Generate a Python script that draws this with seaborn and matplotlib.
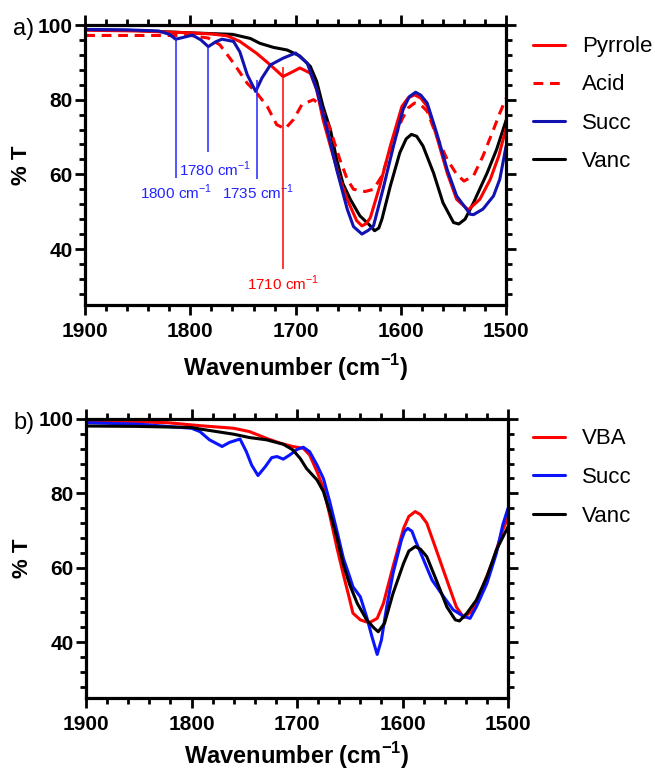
import matplotlib
matplotlib.use("Agg")
import matplotlib.pyplot as plt
from matplotlib.ticker import MultipleLocator
import seaborn as sns

# ---------------- data: panel a ----------------
succ_a_wn = [1900, 1860, 1830, 1820, 1814, 1808, 1798, 1790, 1783, 1776, 1770, 1759, 1753,
             1746, 1738, 1732, 1724, 1712, 1700, 1689, 1680, 1670, 1661, 1651, 1645, 1637,
             1631, 1626, 1617, 1607, 1598, 1592, 1586, 1581, 1575, 1566, 1556, 1547, 1534,
             1531, 1522, 1512, 1506, 1500]
succ_a_t = [98.8, 98.7, 98.4, 97.5, 96.2, 96.6, 97.3, 96.0, 94.2, 95.5, 96.2, 95.6, 92.8,
            86.7, 82.2, 85.8, 89.3, 91.1, 92.5, 89.8, 82.7, 72.0, 61.3, 50.7, 46.0, 44.0,
            45.0, 46.2, 56.0, 67.6, 77.3, 80.8, 82.0, 81.2, 79.1, 71.1, 61.3, 54.2, 49.3,
            49.2, 50.7, 54.2, 58.7, 67.6]

pyrrole_wn = [1900, 1850, 1800, 1780, 1765, 1753, 1745, 1737, 1724, 1712, 1702, 1696, 1686,
              1680, 1674, 1667, 1658, 1651, 1642, 1637, 1633, 1629, 1620, 1610, 1599, 1593,
              1587, 1581, 1575, 1566, 1556, 1547, 1536, 1525, 1515, 1507, 1500]
pyrrole_t = [98.6, 98.4, 97.9, 97.6, 97.1, 95.6, 94.0, 92.4, 89.3, 86.2, 87.6, 88.5, 87.1,
             82.7, 74.7, 67.6, 58.7, 53.3, 47.6, 46.2, 46.8, 48.4, 56.9, 67.6, 78.2, 80.5,
             81.3, 80.4, 78.2, 70.2, 60.4, 53.3, 50.5, 53.3, 58.7, 64.9, 72.4]

acid_wn = [1900, 1850, 1800, 1783, 1772, 1759, 1746, 1737, 1727, 1718, 1710, 1702, 1694,
           1683, 1677, 1667, 1658, 1651, 1645, 1634, 1626, 1618, 1610, 1599, 1593, 1587,
           1581, 1575, 1566, 1556, 1547, 1540, 1531, 1522, 1512, 1506, 1500]
acid_t = [97.2, 97.2, 97.2, 96.5, 94.7, 89.8, 84.4, 81.8, 78.2, 73.3, 72.2, 74.7, 78.7,
          80.0, 78.7, 72.0, 64.0, 58.7, 56.0, 55.4, 56.0, 59.6, 66.7, 74.7, 77.8, 79.1,
          78.6, 76.9, 70.2, 64.0, 60.0, 58.2, 59.6, 64.9, 72.0, 76.4, 80.4]

vanc_a_wn = [1900, 1850, 1800, 1760, 1743, 1734, 1721, 1708, 1696, 1686, 1680, 1674, 1667,
             1661, 1655, 1648, 1639, 1629, 1625, 1621, 1618, 1610, 1601, 1595, 1590, 1585,
             1579, 1569, 1560, 1550, 1545, 1539, 1531, 1518, 1509, 1500]
vanc_a_t = [98.8, 98.5, 97.9, 97.5, 96.4, 95.1, 94.0, 93.3, 91.7, 88.9, 84.9, 78.2, 72.0,
            64.0, 57.5, 53.3, 48.9, 46.2, 44.9, 45.6, 48.0, 56.9, 65.8, 69.5, 70.7, 70.2,
            67.6, 60.4, 52.4, 47.1, 46.7, 48.0, 52.4, 60.4, 66.7, 74.5]

# annotations (panel a)
ann_labels = ["1800 cm$^{-1}$", "1780 cm$^{-1}$", "1735 cm$^{-1}$", "1710 cm$^{-1}$"]
ann_x = [1814, 1783, 1737, 1712]
ann_top = [96.3, 94.2, 85.3, 88.8]
ann_bottom = [58.9, 65.9, 58.7, 34.7]
ann_text_x = [1813.5, 1776.5, 1735.6, 1711.9]
ann_text_y = [55.2, 61.3, 55.2, 30.7]

# ---------------- data: panel b ----------------
vba_wn = [1900, 1850, 1823, 1792, 1760, 1745, 1729, 1716, 1704, 1694, 1688, 1681, 1675,
          1669, 1662, 1656, 1651, 1647, 1640, 1635, 1631, 1624, 1618, 1609, 1599, 1594,
          1588, 1583, 1577, 1568, 1558, 1549, 1542, 1533, 1524, 1514, 1505, 1500]
vba_t = [99.3, 99.2, 99.0, 98.2, 97.5, 96.6, 94.8, 93.5, 92.6, 92.1, 90.3, 85.8, 81.4,
         74.2, 65.2, 58.1, 52.5, 47.8, 46.0, 45.5, 45.3, 46.4, 50.5, 60.3, 70.6, 73.8,
         75.1, 74.3, 72.0, 64.8, 56.7, 49.5, 46.6, 48.7, 54.9, 62.1, 70.2, 73.5]

succ_b_wn = [1900, 1850, 1823, 1800, 1792, 1783, 1771, 1764, 1754, 1748, 1743, 1737, 1730,
             1724, 1719, 1713, 1707, 1700, 1694, 1688, 1681, 1675, 1669, 1662, 1656, 1650,
             1647, 1640, 1634, 1629, 1624, 1620, 1615, 1609, 1601, 1598, 1595, 1591, 1588,
             1580, 1572, 1561, 1552, 1542, 1536, 1530, 1520, 1511, 1505, 1500]
succ_b_t = [99.0, 98.6, 98.0, 97.5, 96.6, 94.4, 92.6, 93.7, 94.6, 91.2, 87.6, 84.8, 87.2,
            89.6, 89.9, 89.2, 90.3, 91.8, 92.4, 91.2, 87.6, 84.0, 77.8, 69.7, 62.5, 57.5,
            54.9, 52.2, 46.8, 41.5, 36.7, 40.6, 49.5, 58.5, 67.5, 69.8, 70.6, 69.8, 67.5,
            62.1, 56.7, 52.2, 48.7, 46.9, 46.4, 49.5, 55.8, 63.9, 71.5, 76.0]

vanc_b_wn = [1900, 1850, 1800, 1792, 1760, 1745, 1729, 1713, 1704, 1697, 1691, 1681, 1675,
             1669, 1662, 1656, 1650, 1643, 1634, 1627, 1623, 1617, 1609, 1599, 1594, 1588,
             1583, 1577, 1568, 1558, 1550, 1546, 1539, 1530, 1520, 1511, 1500]
vanc_b_t = [98.1, 98.0, 97.7, 97.3, 95.9, 95.0, 94.4, 93.2, 91.7, 89.4, 86.7, 83.6, 80.5,
            75.1, 67.9, 60.8, 55.4, 50.5, 46.0, 43.8, 42.8, 45.1, 53.1, 61.2, 64.5, 65.7,
            65.0, 63.0, 56.7, 49.5, 46.0, 45.7, 47.8, 51.3, 57.6, 64.8, 71.0]

x_ticks = [1900, 1800, 1700, 1600, 1500]
y_ticks = [40, 60, 80, 100]

# ---------------- style ----------------
sns.set_style("ticks")
plt.rcParams['font.family'] = ['Liberation Sans', 'DejaVu Sans']
plt.rcParams['mathtext.fontset'] = 'custom'
plt.rcParams['mathtext.rm'] = 'Liberation Sans'
plt.rcParams['mathtext.bf'] = 'Liberation Sans:bold'
plt.rcParams['text.color'] = 'black'
plt.rcParams['axes.labelcolor'] = 'black'
plt.rcParams['xtick.color'] = 'black'
plt.rcParams['ytick.color'] = 'black'
plt.rcParams['xtick.labelcolor'] = 'black'
plt.rcParams['ytick.labelcolor'] = 'black'

RED = '#FF0000'
BLUE_A = '#1212B0'
BLUE_B = '#0A14FF'
ANN_BLUE = '#2424FF'
BLACK = '#000000'
LW = 2.2

fig = plt.figure(figsize=(6.55, 7.72), dpi=100)
ax_a = fig.add_axes([0.130, 0.6049, 0.6427, 0.3627])
ax_b = fig.add_axes([0.1313, 0.0959, 0.6443, 0.3614])


def style_axis(ax, lpad):
    ax.set_xlim(1900, 1500)
    ax.set_ylim(25, 100)
    ax.set_xticks(x_ticks)
    ax.set_yticks(y_ticks)
    ax.xaxis.set_minor_locator(MultipleLocator(20))
    ax.yaxis.set_minor_locator(MultipleLocator(4))
    for sp in ax.spines.values():
        sp.set_visible(True)
        sp.set_linewidth(2.3)
        sp.set_color('black')
    ax.tick_params(which='both', direction='out', top=True, right=True,
                   width=2.0, color='black', labelcolor='black')
    ax.tick_params(which='major', length=7, labelsize=15, pad=2)
    ax.tick_params(which='minor', length=4)
    ax.tick_params(axis='x', which='major', pad=5)
    for lab in ax.get_xticklabels() + ax.get_yticklabels():
        lab.set_fontweight('bold')
    ax.set_xlabel(r'Wavenumber (cm$^{\mathbf{-1}}$)', fontsize=17, fontweight='bold',
                  labelpad=lpad, color='black')
    ax.set_ylabel('% T', fontsize=16, fontweight='bold', labelpad=4, color='black')


DASH = (0, (3.2, 2.2))

# panel a
sns.lineplot(x=pyrrole_wn, y=pyrrole_t, ax=ax_a, color=RED, lw=LW, sort=False,
             estimator=None, label='Pyrrole')
sns.lineplot(x=acid_wn, y=acid_t, ax=ax_a, color=RED, lw=LW, sort=False,
             estimator=None, label='Acid', linestyle=DASH)
sns.lineplot(x=succ_a_wn, y=succ_a_t, ax=ax_a, color=BLUE_A, lw=LW, sort=False,
             estimator=None, label='Succ')
sns.lineplot(x=vanc_a_wn, y=vanc_a_t, ax=ax_a, color=BLACK, lw=LW, sort=False,
             estimator=None, label='Vanc')
lines_a = ax_a.get_lines()
lines_a[3].set_zorder(1.5)

for i in range(len(ann_x)):
    c = RED if i == 3 else ANN_BLUE
    ax_a.vlines(ann_x[i], ann_bottom[i], ann_top[i], color=c, lw=1.1, zorder=3)
    ax_a.text(ann_text_x[i], ann_text_y[i], ann_labels[i], color=c, fontsize=11,
              ha='center', va='center')

style_axis(ax_a, 8)
leg_a = ax_a.legend(loc='upper left', bbox_to_anchor=(0.8137, 0.953),
                    bbox_transform=fig.transFigure, frameon=False, fontsize=16,
                    handlelength=1.45, handletextpad=0.75, labelspacing=0.77,
                    borderpad=0, borderaxespad=0)
for h in leg_a.get_lines():
    h.set_linewidth(LW)
for t in leg_a.get_texts():
    t.set_color('black')

# panel b
sns.lineplot(x=vba_wn, y=vba_t, ax=ax_b, color=RED, lw=LW, sort=False,
             estimator=None, label='VBA')
sns.lineplot(x=succ_b_wn, y=succ_b_t, ax=ax_b, color=BLUE_B, lw=LW, sort=False,
             estimator=None, label='Succ')
sns.lineplot(x=vanc_b_wn, y=vanc_b_t, ax=ax_b, color=BLACK, lw=LW, sort=False,
             estimator=None, label='Vanc')
style_axis(ax_b, 5)
leg_b = ax_b.legend(loc='upper left', bbox_to_anchor=(0.8137, 0.445),
                    bbox_transform=fig.transFigure, frameon=False, fontsize=16,
                    handlelength=1.45, handletextpad=0.75, labelspacing=0.8,
                    borderpad=0, borderaxespad=0)
for h in leg_b.get_lines():
    h.set_linewidth(LW)
for t in leg_b.get_texts():
    t.set_color('black')

fig.text(0.020, 0.962, 'a)', fontsize=17, ha='left', va='center', color='black')
fig.text(0.020, 0.452, 'b)', fontsize=17, ha='left', va='center', color='black')

fig.savefig('out.png', dpi=100)
